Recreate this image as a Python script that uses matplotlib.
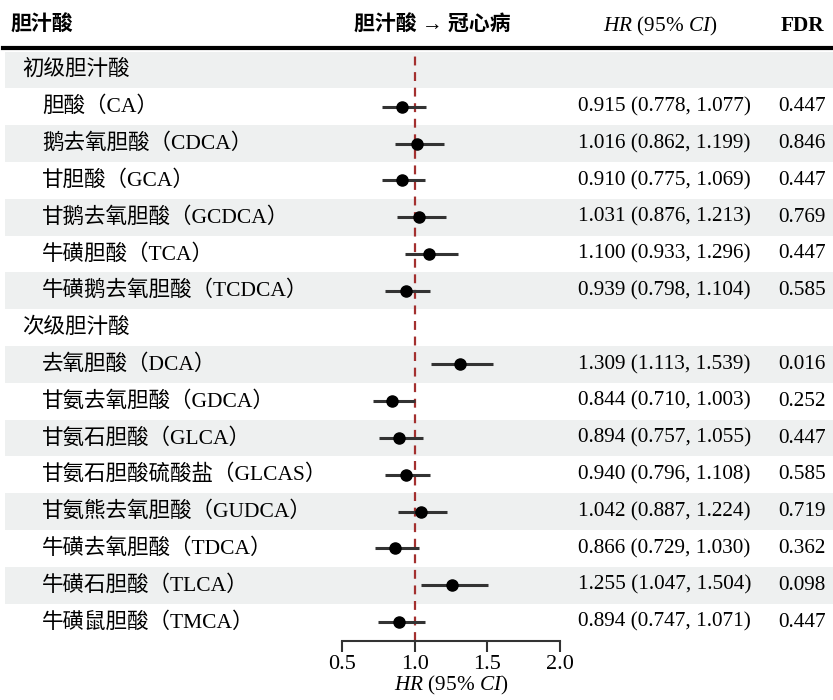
import matplotlib
matplotlib.use("Agg")
import matplotlib.pyplot as plt

plt.rcParams["mathtext.fontset"] = "custom"
plt.rcParams["mathtext.rm"] = "Liberation Serif"
plt.rcParams["mathtext.it"] = "Liberation Serif:italic"
plt.rcParams["mathtext.bf"] = "Liberation Serif:bold"

FAM = ["Liberation Serif", "Noto Sans CJK SC", "DejaVu Sans"]

labels = [
    "初级胆汁酸",
    "胆酸（CA）",
    "鹅去氧胆酸（CDCA）",
    "甘胆酸（GCA）",
    "甘鹅去氧胆酸（GCDCA）",
    "牛磺胆酸（TCA）",
    "牛磺鹅去氧胆酸（TCDCA）",
    "次级胆汁酸",
    "去氧胆酸（DCA）",
    "甘氨去氧胆酸（GDCA）",
    "甘氨石胆酸（GLCA）",
    "甘氨石胆酸硫酸盐（GLCAS）",
    "甘氨熊去氧胆酸（GUDCA）",
    "牛磺去氧胆酸（TDCA）",
    "牛磺石胆酸（TLCA）",
    "牛磺鼠胆酸（TMCA）",
]
is_group = [True, False, False, False, False, False, False,
            True, False, False, False, False, False, False, False, False]

hr = [None, 0.915, 1.016, 0.910, 1.031, 1.100, 0.939,
      None, 1.309, 0.844, 0.894, 0.940, 1.042, 0.866, 1.255, 0.894]
lo = [None, 0.778, 0.862, 0.775, 0.876, 0.933, 0.798,
      None, 1.113, 0.710, 0.757, 0.796, 0.887, 0.729, 1.047, 0.747]
hi = [None, 1.077, 1.199, 1.069, 1.213, 1.296, 1.104,
      None, 1.539, 1.003, 1.055, 1.108, 1.224, 1.030, 1.504, 1.071]
fdr = [None, "0.447", "0.846", "0.447", "0.769", "0.447", "0.585",
       None, "0.016", "0.252", "0.447", "0.585", "0.719", "0.362", "0.098", "0.447"]

x_ticks = [0.5, 1.0, 1.5, 2.0]

W, H = 833, 700
ROW0, STEP = 70, 36.8  # pixel centre of first row, row spacing


def row_at(px):
    return (px - ROW0) / STEP


fig = plt.figure(figsize=(W / 100, H / 100), dpi=100)

# table layer over the whole figure
bg = fig.add_axes([0, 0, 1, 1])
bg.set_xlim(0, 1)
bg.set_ylim(row_at(H), row_at(0))
bg.axis("off")

n = len(labels)
for i in range(n):
    if i % 2 == 0:
        bg.axhspan(i - 0.5, i + 0.5, xmin=5 / W, xmax=1, color="#eef0f0", lw=0, zorder=0)

bg.axhline(row_at(48), xmin=3 / W, xmax=1, color="black", lw=3, zorder=2)

fs_cn = 15.5
fs_num = 15.3
# header
bg.text(10 / W, row_at(26), "胆汁酸", family=FAM, fontsize=15, fontweight="bold", va="center")
bg.text(432 / W, row_at(26), "胆汁酸 → 冠心病", family=FAM, fontsize=15, fontweight="bold",
        va="center", ha="center")
bg.text(660 / W, row_at(26), r"$\mathit{HR}$ (95% $\mathit{CI}$)", family=FAM,
        fontsize=fs_num, va="center", ha="center")
bg.text(802 / W, row_at(26), "FDR", family=FAM, fontsize=fs_num, fontweight="bold",
        va="center", ha="center")

for i, lab in enumerate(labels):
    x0 = 22 if is_group[i] else 42
    bg.text(x0 / W, i, lab, family=FAM, fontsize=fs_cn, va="center")
    if hr[i] is not None:
        bg.text(578 / W, i, f"{hr[i]:.3f} ({lo[i]:.3f}, {hi[i]:.3f})",
                family=FAM, fontsize=fs_num, va="center")
        bg.text(778 / W, i, fdr[i], family=FAM, fontsize=fs_num, va="center")

# forest panel
top_px, bot_px = 50, 641
left_px, right_px = 342, 560
ax = fig.add_axes([left_px / W, (H - bot_px) / H, (right_px - left_px) / W, (bot_px - top_px) / H])
ax.set_xlim(0.5, 2.0)
ax.set_ylim(row_at(bot_px), row_at(top_px))
ax.patch.set_alpha(0)
for s in ["top", "left", "right"]:
    ax.spines[s].set_visible(False)
ax.spines["bottom"].set_linewidth(1.5)
ax.spines["bottom"].set_color("#333333")
ax.set_yticks([])
ax.set_xticks(x_ticks)
ax.set_xticklabels([f"{t:.1f}" for t in x_ticks], family=FAM, fontsize=16)
ax.tick_params(axis="x", direction="out", length=8, width=1.5, color="#333333", pad=2)
ax.set_xlabel(r"$\mathit{HR}$ (95% $\mathit{CI}$)", family=FAM, fontsize=fs_num, labelpad=0)

ax.axvline(1.0, color="#a3302f", lw=1.6, ls=(0, (4, 3)), zorder=1)

for i in range(n):
    if hr[i] is None:
        continue
    ax.plot([lo[i], hi[i]], [i, i], color="#333333", lw=2.2, solid_capstyle="butt", zorder=2)
    ax.plot(hr[i], i, "o", color="black", ms=8, zorder=3)

fig.savefig("out.png", dpi=100)
